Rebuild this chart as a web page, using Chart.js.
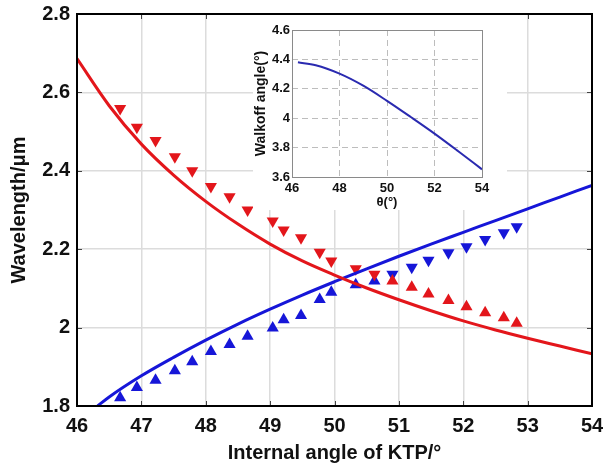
<!DOCTYPE html>
<html><head><meta charset="utf-8">
<script src="https://cdn.jsdelivr.net/npm/chart.js@4/dist/chart.umd.min.js"></script>
<style>
html,body{margin:0;padding:0;background:#fff;}
#wrap{position:relative;width:603px;height:466px;overflow:hidden;}
#main{position:absolute;left:0;top:0;}
#inset{position:absolute;left:253px;top:15px;}
</style></head><body>
<div id="wrap">
<canvas id="main" width="603" height="466" style="width:603px;height:466px"></canvas>
<canvas id="inset" width="254" height="195" style="width:254px;height:195px"></canvas>
</div>
<script>
// ---------- data ----------
const xTickLabels = ['46','47','48','49','50','51','52','53','54'];
const yTickLabels = ['1.8','2','2.2','2.4','2.6','2.8'];

// theoretical curves
const redCurveX  = [46, 46.5, 47, 47.5, 48, 48.5, 49, 49.5, 50, 50.5, 51, 51.5, 52, 52.5, 53, 53.5, 54];
const redCurveY  = [2.686, 2.566, 2.468, 2.389, 2.322, 2.264, 2.213, 2.170, 2.134, 2.101, 2.071, 2.043, 2.017, 1.994, 1.973, 1.953, 1.933];
const blueCurveX = [46.32, 46.5, 47, 47.5, 48, 48.5, 49, 49.5, 50, 50.5, 51, 51.5, 52, 52.5, 53, 53.5, 54];
const blueCurveY = [1.800, 1.823, 1.877, 1.924, 1.968, 2.009, 2.047, 2.083, 2.117, 2.150, 2.182, 2.213, 2.243, 2.273, 2.303, 2.333, 2.363];

// measured points
const lowAngles  = [46.67, 46.93, 47.22, 47.52, 47.79, 48.08, 48.37, 48.65, 49.04, 49.21, 49.48, 49.77, 49.95, 50.33, 50.62];
const redDownY   = [2.559, 2.511, 2.477, 2.436, 2.400, 2.360, 2.334, 2.300, 2.272, 2.249, 2.229, 2.192, 2.170, 2.150, 2.136];
const blueUpY    = [1.821, 1.847, 1.866, 1.890, 1.913, 1.939, 1.957, 1.978, 1.999, 2.020, 2.031, 2.072, 2.090, 2.109, 2.119];
const highAngles = [50.90, 51.20, 51.46, 51.77, 52.05, 52.34, 52.63, 52.83];
const redUpY     = [2.119, 2.103, 2.086, 2.069, 2.053, 2.038, 2.025, 2.011];
const blueDownY  = [2.136, 2.154, 2.172, 2.191, 2.206, 2.225, 2.242, 2.257];

// inset: walk-off angle
const insetXTickLabels = ['46','48','50','52','54'];
const insetYTickLabels = ['3.6','3.8','4','4.2','4.4','4.6'];
const walkoffX = [46.25, 47, 48, 49, 50, 51, 52, 53, 54];
const walkoffY = [4.38, 4.36, 4.303, 4.221, 4.118, 4.008, 3.895, 3.775, 3.652];

// ---------- helpers ----------
const FAMILY = "'Liberation Sans', Arial, sans-serif";
const RED = '#e3161b';
const BLUE = '#1616d8';
const pts = (xs, ys) => xs.map((x, i) => ({x, y: ys[i]}));
const nums = arr => arr.map(Number);

const mainFrame = {
  id: 'mainFrame',
  afterDraw(chart) {
    const {ctx, chartArea: a, scales: {x, y}} = chart;
    ctx.save();
    ctx.strokeStyle = '#444';
    ctx.lineWidth = 1;
    nums(yTickLabels).forEach(v => {
      const py = Math.round(y.getPixelForValue(v)) + 0.5;
      ctx.beginPath(); ctx.moveTo(a.left, py); ctx.lineTo(a.left + 5, py);
      ctx.moveTo(a.right - 5, py); ctx.lineTo(a.right, py); ctx.stroke();
    });
    nums(xTickLabels).forEach(v => {
      const px = Math.round(x.getPixelForValue(v)) + 0.5;
      ctx.beginPath(); ctx.moveTo(px, a.bottom); ctx.lineTo(px, a.bottom - 5);
      ctx.moveTo(px, a.top); ctx.lineTo(px, a.top + 5); ctx.stroke();
    });
    ctx.strokeStyle = '#000';
    ctx.lineWidth = 2;
    ctx.strokeRect(a.left, a.top, a.right - a.left, a.bottom - a.top);
    ctx.restore();
  }
};

const markerSet = (label, xs, ys, color, rot) => ({
  type: 'scatter', label, data: pts(xs, ys), showLine: false,
  pointStyle: 'triangle', rotation: rot, pointRadius: 7, pointHoverRadius: 7,
  pointBorderWidth: 0, backgroundColor: color, borderColor: color
});
const curveSet = (label, xs, ys, color) => ({
  type: 'line', label, data: pts(xs, ys), borderColor: color, borderWidth: 3,
  pointRadius: 0, fill: false, cubicInterpolationMode: 'monotone'
});

const tickFont = {family: FAMILY, size: 20, weight: 'bold'};

new Chart(document.getElementById('main'), {
  data: {
    datasets: [
      curveSet('red theory', redCurveX, redCurveY, RED),
      curveSet('blue theory', blueCurveX, blueCurveY, BLUE),
      markerSet('red down', lowAngles, redDownY, RED, 180),
      markerSet('blue up', lowAngles, blueUpY, BLUE, 0),
      markerSet('red up', highAngles, redUpY, RED, 0),
      markerSet('blue down', highAngles, blueDownY, BLUE, 180)
    ]
  },
  options: {
    responsive: false, animation: false, devicePixelRatio: 1,
    layout: {padding: {top: 14, right: 11, left: 0, bottom: 0}},
    plugins: {legend: {display: false}, tooltip: {enabled: false}},
    scales: {
      x: {
        type: 'linear', min: 46, max: 54,
        afterBuildTicks: s => { s.ticks = nums(xTickLabels).map(v => ({value: v})); },
        afterFit: s => { s.height = 60; s.paddingLeft = 0; s.paddingRight = 0; },
        ticks: {font: tickFont, color: '#111', padding: 8, maxRotation: 0, autoSkip: false,
                callback: (v, i) => xTickLabels[i]},
        grid: {color: '#dcdcdc', lineWidth: 1.5, drawTicks: false},
        border: {display: false},
        title: {display: true, text: 'Internal angle of KTP/°', color: '#111',
                font: {family: FAMILY, size: 20, weight: 'bold'}, padding: {top: 0, bottom: 1}}
      },
      y: {
        type: 'linear', min: 1.8, max: 2.8,
        afterBuildTicks: s => { s.ticks = nums(yTickLabels).map(v => ({value: v})); },
        afterFit: s => { s.width = 77; s.paddingTop = 0; s.paddingBottom = 0; },
        ticks: {font: tickFont, color: '#111', padding: 7, autoSkip: false,
                callback: (v, i) => yTickLabels[i]},
        grid: {color: '#dcdcdc', lineWidth: 1.5, drawTicks: false},
        border: {display: false},
        title: {display: true, text: 'Wavelength/μm', color: '#111',
                font: {family: FAMILY, size: 20, weight: 'bold'}, padding: {top: 7, bottom: 0}}
      }
    }
  },
  plugins: [mainFrame]
});

// ---------- inset ----------
const insetBg = {
  id: 'insetBg',
  beforeDraw(chart) {
    const {ctx, width, height} = chart;
    ctx.save(); ctx.fillStyle = '#fff'; ctx.fillRect(0, 0, width, height); ctx.restore();
  },
  afterDraw(chart) {
    const {ctx, chartArea: a} = chart;
    ctx.save(); ctx.strokeStyle = '#8a8a8a'; ctx.lineWidth = 1;
    ctx.strokeRect(Math.round(a.left) + 0.5, Math.round(a.top) + 0.5,
                   Math.round(a.right - a.left), Math.round(a.bottom - a.top));
    ctx.restore();
  }
};
const insetFont = {family: FAMILY, size: 13, weight: 'bold'};

new Chart(document.getElementById('inset'), {
  type: 'line',
  data: {datasets: [{
    label: 'walkoff', data: pts(walkoffX, walkoffY), borderColor: '#2a2ab0', borderWidth: 2,
    pointRadius: 0, fill: false, cubicInterpolationMode: 'monotone'
  }]},
  options: {
    responsive: false, animation: false, devicePixelRatio: 1,
    layout: {padding: {top: 15, right: 25, left: 0, bottom: 0}},
    plugins: {legend: {display: false}, tooltip: {enabled: false}},
    scales: {
      x: {
        type: 'linear', min: 46, max: 54,
        afterBuildTicks: s => { s.ticks = nums(insetXTickLabels).map(v => ({value: v})); },
        afterFit: s => { s.height = 33; s.paddingLeft = 0; s.paddingRight = 0; },
        ticks: {font: insetFont, color: '#111', padding: 4, maxRotation: 0, autoSkip: false,
                callback: (v, i) => insetXTickLabels[i]},
        grid: {color: '#bdbdbd', lineWidth: 1, drawTicks: false},
        border: {display: false, dash: [6, 4]},
        title: {display: true, text: 'θ(°)', color: '#111',
                font: {family: FAMILY, size: 13, weight: 'bold'}, padding: {top: 0, bottom: 0}}
      },
      y: {
        type: 'linear', min: 3.6, max: 4.6,
        afterBuildTicks: s => { s.ticks = nums(insetYTickLabels).map(v => ({value: v})); },
        afterFit: s => { s.width = 39; s.paddingTop = 0; s.paddingBottom = 0; },
        ticks: {font: insetFont, color: '#111', padding: 2, autoSkip: false,
                callback: (v, i) => insetYTickLabels[i]},
        grid: {color: '#bdbdbd', lineWidth: 1, drawTicks: false},
        border: {display: false, dash: [6, 4]},
        title: {display: true, text: 'Walkoff angle(°)', color: '#111',
                font: {family: FAMILY, size: 14, weight: 'bold'}, padding: {top: 0, bottom: 0}}
      }
    }
  },
  plugins: [insetBg]
});
</script>
</body></html>
